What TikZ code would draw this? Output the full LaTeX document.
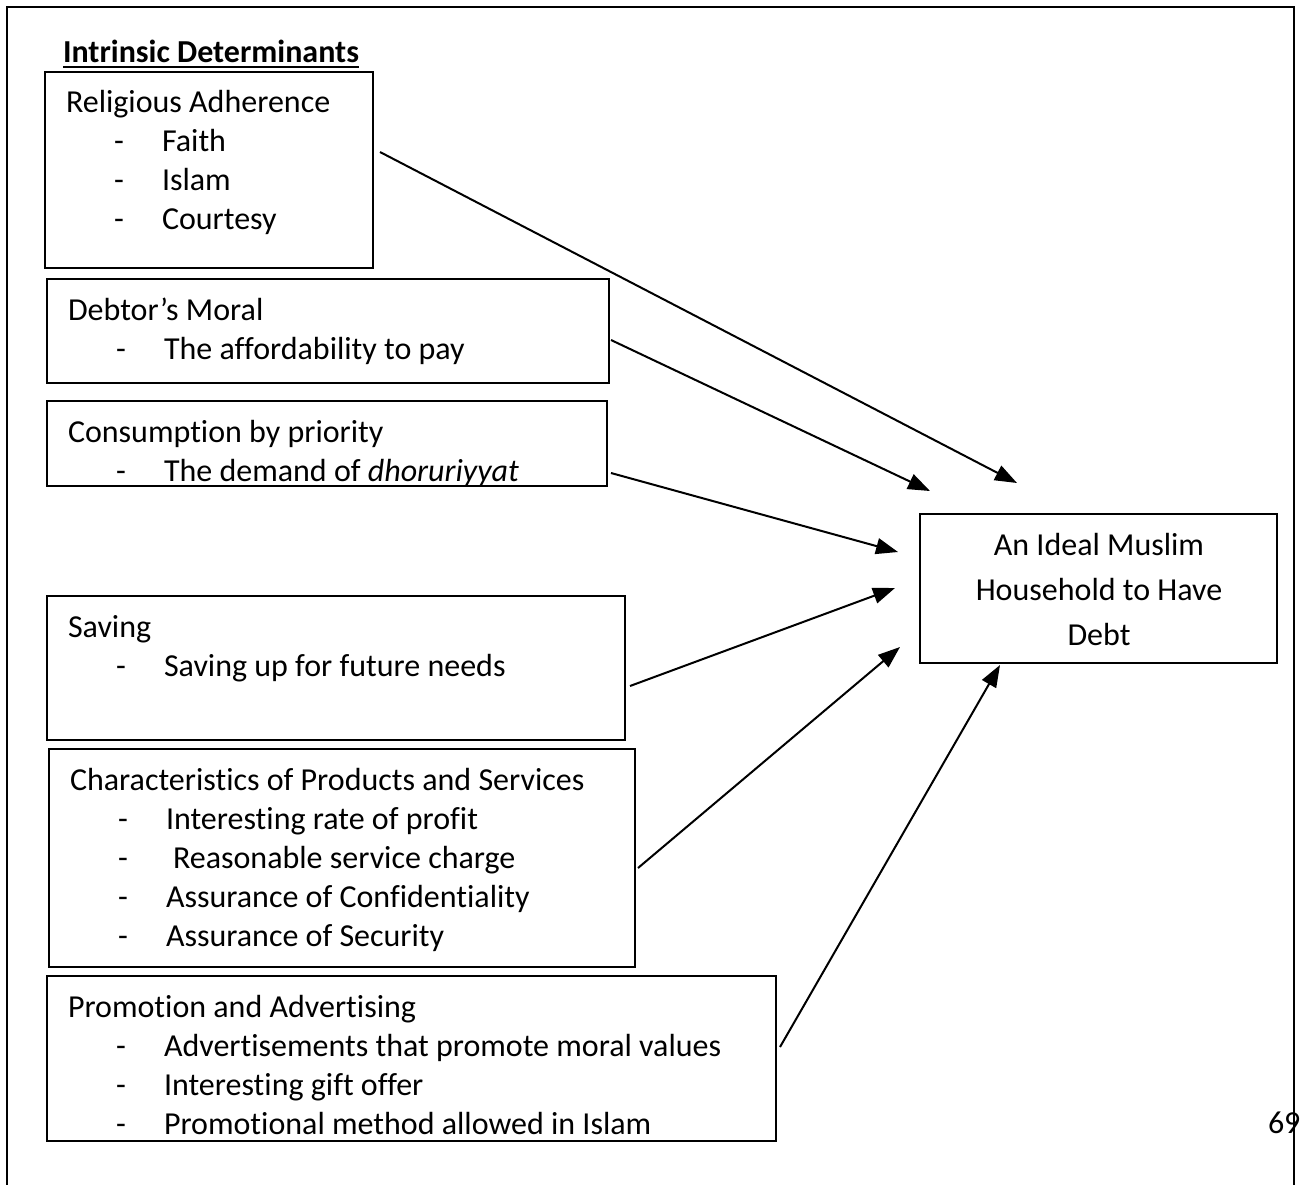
\documentclass[tikz,border=0pt]{standalone}
\usepackage{fontspec}
\setmainfont{Carlito}[Ligatures=NoCommon]
\usetikzlibrary{arrows.meta}
\begin{document}
\begin{tikzpicture}[x=1pt,y=-1pt,
  box/.style={draw,line width=2pt,inner sep=0pt,outer sep=0pt},
  txt/.style={inner sep=0pt,outer sep=0pt,anchor=base west,font=\fontsize{32}{39}\selectfont},
  ctxt/.style={inner sep=0pt,outer sep=0pt,anchor=base,font=\fontsize{32}{39}\selectfont},
  arr/.style={line width=2pt,-{Triangle[length=22pt,width=16pt]}}]
\useasboundingbox (0,0) rectangle (1300,1184);
\begin{scope}
\clip (0,0) rectangle (1300,1184);
\node[txt] (p693) at (1268,1133) {693};
\draw[line width=2.5pt] (7,1200) -- (7,7) -- (1294,7) -- (1294,1200);
\end{scope}
% title
\node[txt,font=\fontsize{32}{39}\selectfont\bfseries] (title) at (63,62) {Intrinsic Determinants};
\draw[line width=2.5pt] ([yshift=-5pt]title.base west) -- ([yshift=-5pt]title.base east);
% boxes
\node[box,minimum width=328pt,minimum height=196pt] (b1) at (209,170) {};
\node[box,minimum width=562pt,minimum height=104pt] (b2) at (328,331) {};
\node[box,minimum width=560pt,minimum height=85pt] (b3) at (327,443.5) {};
\node[box,minimum width=578pt,minimum height=144pt] (b4) at (336,668) {};
\node[box,minimum width=586pt,minimum height=218pt] (b5) at (342,858) {};
\node[box,minimum width=729pt,minimum height=165pt] (b6) at (411.5,1058.5) {};
\node[box,minimum width=357pt,minimum height=149pt] (t) at (1098.5,588.5) {};
% box 1
\node[txt] (b1h) at (66,112) {Religious Adherence};
\node[txt] (b1d1) at (114,151) {-};
\node[txt] (b1i1) at (162,151) {Faith};
\node[txt] (b1d2) at (114,190) {-};
\node[txt] (b1i2) at (162,190) {Islam};
\node[txt] (b1d3) at (114,229) {-};
\node[txt] (b1i3) at (162,229) {Courtesy};
% box 2
\node[txt] (b2h) at (68,320) {Debtor’s Moral};
\node[txt] (b2d1) at (116,359) {-};
\node[txt] (b2i1) at (164,359) {The affordability to pay};
% box 3
\node[txt] (b3h) at (68,442) {Consumption by priority};
\node[txt] (b3d1) at (116,481) {-};
\node[txt] (b3i1) at (164,481) {The demand of \textit{dhoruriyyat}};
% box 4
\node[txt] (b4h) at (68,637) {Saving};
\node[txt] (b4d1) at (116,676) {-};
\node[txt] (b4i1) at (164,676) {Saving up for future needs};
% box 5
\node[txt] (b5h) at (70,790) {Characteristics of Products and Services};
\node[txt] (b5d1) at (118,829) {-};
\node[txt] (b5i1) at (166,829) {Interesting rate of profit};
\node[txt] (b5d2) at (118,868) {-};
\node[txt] (b5i2) at (173,868) {Reasonable service charge};
\node[txt] (b5d3) at (118,907) {-};
\node[txt] (b5i3) at (166,907) {Assurance of Confidentiality};
\node[txt] (b5d4) at (118,946) {-};
\node[txt] (b5i4) at (166,946) {Assurance of Security};
% box 6
\node[txt] (b6h) at (68,1017) {Promotion and Advertising};
\node[txt] (b6d1) at (116,1056) {-};
\node[txt] (b6i1) at (164,1056) {Advertisements that promote moral values};
\node[txt] (b6d2) at (116,1095) {-};
\node[txt] (b6i2) at (164,1095) {Interesting gift offer};
\node[txt] (b6d3) at (116,1134) {-};
\node[txt] (b6i3) at (164,1134) {Promotional method allowed in Islam};
% target
\node[ctxt] (t1) at (1099,555) {An Ideal Muslim};
\node[ctxt] (t2) at (1099,600) {Household to Have};
\node[ctxt] (t3) at (1099,645) {Debt};
% arrow endpoints
\coordinate (s1) at (380,152);
\coordinate (e1) at (1017,483);
\coordinate (s2) at (611,340);
\coordinate (e2) at (930,491);
\coordinate (s3) at (611,473);
\coordinate (e3) at (898,552);
\coordinate (s4) at (630,686);
\coordinate (e4) at (895,588);
\coordinate (s5) at (638,868);
\coordinate (e5) at (900,647);
\coordinate (s6) at (780,1047);
\coordinate (e6) at (1000,665);
\draw[arr] (s1) -- (e1);
\draw[arr] (s2) -- (e2);
\draw[arr] (s3) -- (e3);
\draw[arr] (s4) -- (e4);
\draw[arr] (s5) -- (e5);
\draw[arr] (s6) -- (e6);
\end{tikzpicture}
\end{document}
